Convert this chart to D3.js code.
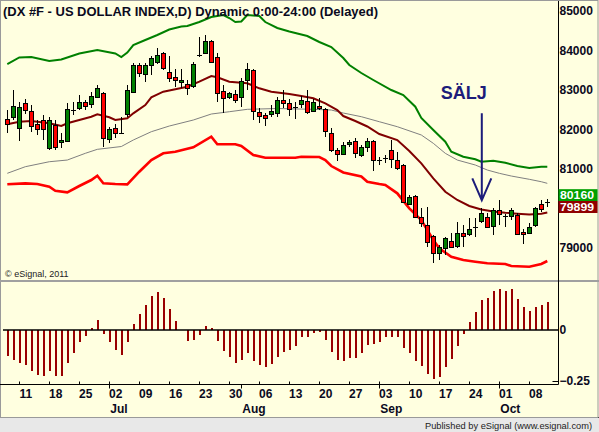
<!DOCTYPE html>
<html>
<head>
<meta charset="utf-8">
<script src="https://cdn.jsdelivr.net/npm/d3@7"></script>
<style>
	body { margin: 0; background: #fff; }
	svg { display: block; font-family: "Liberation Sans", Arial, sans-serif; }
</style>
</head>
<body>
<svg width="599" height="432"></svg>
<script>
// daily candles, DX #F, 6 Jun - 10 Oct 2012
const opens = [82265, 82316, 82030, 82663, 82460, 82132, 82240, 81524, 82106, 81675,
	81709, 82495, 82537, 82689, 82646, 82815, 82916, 81760, 82038, 81903,
	82384, 82957, 83633, 83397, 83615, 83701, 83929, 83448, 83321, 83195,
	83144, 83083, 83886, 83929, 84240, 83828, 82974, 82805, 82900, 82830,
	83236, 83506, 82435, 82359, 82409, 82409, 82747, 82663, 82580, 82637,
	82721, 82476, 82595, 82511, 81911, 81481, 81380, 81625, 81709, 81354,
	81565, 81709, 81227, 81270, 81481, 81227, 81100, 80130, 80316, 79792,
	79582, 79303, 78865, 78992, 79176, 79050, 79388, 79336, 79540, 79665,
	79792, 79557, 79961, 79818, 79810, 79835, 79412, 79388, 79565, 80113, 80160];
const highs = [82495, 83000, 82704, 82765, 82620, 82240, 82367, 82324, 82240, 81903,
	82663, 82704, 82873, 82747, 82957, 83126, 82957, 82056, 82139, 82324,
	83126, 83676, 83690, 83676, 83861, 84056, 83970, 83861, 83524, 83524,
	83253, 83716, 84350, 84392, 84266, 83929, 83126, 82957, 83000, 83296,
	83690, 83524, 82537, 82409, 82620, 82830, 83000, 82765, 82704, 82848,
	83000, 82765, 82790, 82544, 82038, 81532, 81690, 81734, 81777, 81607,
	81777, 81734, 81310, 81354, 81734, 81437, 81126, 80341, 80341, 80004,
	80046, 79328, 79075, 79286, 79371, 79665, 79582, 79751, 79751, 80004,
	79877, 80004, 80215, 79860, 80004, 79877, 79472, 79625, 80046, 80215, 80240];
const lows = [81920, 82240, 81716, 82392, 81944, 81860, 81734, 81481, 81481, 81524,
	81690, 82367, 82493, 82493, 82537, 82790, 81564, 81650, 81777, 81880,
	82324, 82932, 83337, 83210, 83380, 83658, 83506, 83210, 83083, 83043,
	82873, 83043, 83828, 83904, 83690, 82704, 82425, 82772, 82663, 82577,
	83000, 82240, 82156, 82088, 82324, 82309, 82535, 82341, 82265, 82537,
	82392, 82450, 82493, 81810, 81430, 81202, 81354, 81565, 81270, 81310,
	81437, 80949, 81100, 81143, 81017, 80974, 80147, 80113, 79751, 79540,
	79033, 78627, 78695, 78822, 78992, 78992, 79033, 79303, 79286, 79625,
	79498, 79329, 79582, 79540, 79708, 79328, 79095, 79354, 79540, 79920, 80030];
const closes = [82130, 82595, 82562, 82493, 82070, 82005, 82005, 82240, 81549, 81734,
	82511, 82495, 82689, 82595, 82848, 83043, 81777, 82005, 81903, 81903,
	83000, 83633, 83422, 83633, 83802, 83886, 83549, 83296, 83253, 83253,
	83043, 83650, 83886, 84240, 83717, 82916, 82805, 82916, 82747, 83228,
	83524, 82476, 82324, 82273, 82476, 82747, 82680, 82519, 82580, 82747,
	82450, 82704, 82537, 81961, 81481, 81380, 81607, 81683, 81397, 81549,
	81709, 81227, 81227, 81270, 81245, 81017, 80172, 80298, 79792, 79640,
	79159, 78881, 79018, 79245, 79033, 79371, 79310, 79472, 79540, 79877,
	79540, 79961, 79860, 79818, 79961, 79354, 79354, 79540, 80004, 79979, 80160];

// band lines, read at the bar index listed beside them
const upperIdx = [0, 2, 4, 7, 9, 12, 15, 18, 19, 20, 21, 23, 25, 27, 29, 30, 32, 34, 36, 37,
	38, 39, 40, 42, 43, 45, 47, 50, 52, 54, 56, 57, 59, 61, 64, 66, 68, 69, 71, 73,
	74, 76, 78, 79, 81, 83, 85, 87, 89, 90];
const upperValues = [83658, 83823, 83835, 83734, 83772, 83924, 84013, 83924, 83835, 83949,
	84139, 84266, 84392, 84532, 84608, 84620, 84721, 84848, 84899, 84823,
	84721, 84734, 84899, 84873, 84721, 84570, 84481, 84367, 84215, 84088,
	83810, 83633, 83430, 83253, 83000, 82873, 82577, 82291, 81987, 81691,
	81437, 81311, 81245, 81184, 81210, 81159, 81075, 81025, 81058, 81058];
const midIdx = [0, 2, 4, 7, 9, 10, 12, 14, 15, 17, 18, 20, 21, 23, 24, 26, 28, 30, 32, 34,
	35, 37, 40, 42, 44, 47, 49, 51, 53, 55, 56, 58, 60, 62, 65, 67, 69, 71, 73, 75,
	77, 79, 81, 83, 85, 87, 89, 90];
const midValues = [82131, 82197, 82215, 82157, 82088, 82157, 82240, 82324, 82385, 82309,
	82240, 82283, 82410, 82620, 82815, 82957, 83017, 83083, 83210, 83354,
	83321, 83210, 83170, 83043, 82957, 82898, 82848, 82790, 82663, 82493,
	82341, 82215, 82076, 81886, 81734, 81455, 81144, 80764, 80425, 80215,
	80063, 79974, 79923, 79893, 79870, 79850, 79870, 79899];
const avgIdx = [0, 3, 7, 10, 13, 15, 19, 21, 24, 27, 31, 34, 37, 40, 45, 51, 54, 56, 59, 62,
	65, 69, 71, 73, 75, 78, 80, 82, 84, 87, 89, 90];
const avgValues = [80891, 81058, 81184, 81227, 81397, 81498, 81569, 81734, 81944, 82088,
	82240, 82392, 82450, 82511, 82531, 82511, 82493, 82417, 82324, 82197,
	82071, 81861, 81650, 81397, 81227, 81101, 80974, 80891, 80822, 80739, 80678, 80637];
const lowerIdx = [0, 3, 5, 7, 8, 10, 12, 14, 15, 16, 18, 20, 22, 24, 26, 28, 31, 34, 35, 38,
	39, 41, 43, 48, 49, 52, 53, 54, 56, 59, 60, 62, 63, 65, 67, 69, 71, 72, 74, 76,
	78, 80, 83, 84, 87, 89, 90];
const lowerValues = [80612, 80637, 80620, 80551, 80450, 80410, 80569, 80721, 80830, 80637,
	80620, 80612, 80931, 81227, 81397, 81437, 81549, 81817, 81625, 81625,
	81582, 81354, 81286, 81286, 81311, 81303, 81227, 81075, 80911, 80810,
	80679, 80620, 80594, 80384, 80004, 79708, 79202, 78992, 78779, 78695,
	78652, 78612, 78594, 78543, 78526, 78594, 78670];

// oscillator, lower pane
const oscValues = [-0.127, -0.147, -0.160, -0.172, -0.199, -0.219, -0.225, -0.199, -0.224, -0.224,
	-0.160, -0.111, -0.059, -0.029, 0.008, 0.049, -0.020, -0.059, -0.098, -0.123,
	-0.059, 0.029, 0.078, 0.123, 0.167, 0.185, 0.155, 0.101, 0.042, -0.002,
	-0.054, -0.049, -0.025, 0.020, 0.008, -0.054, -0.101, -0.131, -0.160, -0.147,
	-0.111, -0.150, -0.170, -0.180, -0.167, -0.131, -0.106, -0.098, -0.077, -0.036,
	-0.033, -0.013, -0.008, -0.049, -0.106, -0.147, -0.150, -0.136, -0.136, -0.111,
	-0.072, -0.069, -0.057, -0.036, -0.033, -0.033, -0.087, -0.111, -0.150, -0.176,
	-0.216, -0.239, -0.229, -0.180, -0.142, -0.077, -0.020, 0.039, 0.088, 0.147,
	0.157, 0.191, 0.201, 0.191, 0.201, 0.152, 0.113, 0.093, 0.113, 0.123, 0.137];

const priceTicks = [85000, 84000, 83000, 82000, 81000, 79000];
const oscTicks = [0, -0.25];
const lastClose = 80160;
const lastMid = 79899;
const sellIdx = 79;

const svg = d3.select("svg");
const width = +svg.attr("width");
const height = +svg.attr("height");

const dates = d3.timeDay.range(new Date(2012, 5, 6), new Date(2012, 9, 11))
	.filter(d => d.getDay() % 6 !== 0);

const xScale = d3.scaleLinear().domain([0, dates.length - 1]).range([7.3, 547.3]);
const yPrice = d3.scaleLinear().domain([79000, 85000]).range([248, 11]);
const yOsc = d3.scaleLinear().domain([-0.25, 0]).range([381, 330]);
const axisX = 558.5;
const axisY = 384.5;
const ink = "#0a0a1e";

// frame
svg.append("rect").attr("width", width).attr("height", 418).attr("fill", "#ffffe0");
svg.append("rect").attr("y", 418).attr("width", width).attr("height", height - 418).attr("fill", "#e8e8e8");
svg.append("line").attr("x1", 0).attr("x2", width).attr("y1", 417.5).attr("y2", 417.5).attr("stroke", "#000");
svg.append("rect").attr("x", 0.5).attr("y", 0.5).attr("width", width - 1.5).attr("height", 417)
	.attr("fill", "none").attr("stroke", "#9a9a9a");
svg.append("line").attr("x1", 0).attr("x2", width).attr("y1", 281).attr("y2", 281)
	.attr("stroke", "#a0a0a0").attr("stroke-width", 2);

// band lines
const line = d3.line().x(d => xScale(d[0])).y(d => yPrice(d[1]));
const bands = [
	{ idx: avgIdx, values: avgValues, color: "#808080", w: 1 },
	{ idx: lowerIdx, values: lowerValues, color: "#ff0000", w: 2.6 },
	{ idx: upperIdx, values: upperValues, color: "#008000", w: 2 },
	{ idx: midIdx, values: midValues, color: "#800000", w: 2 }
];
svg.append("g").selectAll("path").data(bands)
	.enter().append("path")
		.attr("d", b => line(d3.zip(b.idx, b.values)))
		.attr("fill", "none")
		.attr("stroke", b => b.color)
		.attr("stroke-width", b => b.w);

// candles
const candles = dates.map((d, i) => ({ i, o: opens[i], h: highs[i], l: lows[i], c: closes[i] }));
const cg = svg.append("g").attr("shape-rendering", "crispEdges");
const cx = d => Math.round(xScale(d.i));
cg.selectAll("line").data(candles)
	.enter().append("line")
		.attr("x1", d => cx(d) + 0.5).attr("x2", d => cx(d) + 0.5)
		.attr("y1", d => yPrice(d.h)).attr("y2", d => yPrice(d.l))
		.attr("stroke", "#000");
cg.selectAll("rect").data(candles.filter(d => d.o !== d.c))
	.enter().append("rect")
		.attr("x", d => cx(d) - 1.5)
		.attr("y", d => Math.round(yPrice(Math.max(d.o, d.c))) + 0.5)
		.attr("width", 4)
		.attr("height", d => Math.max(1, Math.round(yPrice(Math.min(d.o, d.c)) - yPrice(Math.max(d.o, d.c)))))
		.attr("fill", d => d.c > d.o ? "#008000" : "#ff0000")
		.attr("stroke", "#000");
cg.selectAll("line.doji").data(candles.filter(d => d.o === d.c))
	.enter().append("line")
		.attr("class", "doji")
		.attr("x1", d => cx(d) - 2).attr("x2", d => cx(d) + 3)
		.attr("y1", d => Math.round(yPrice(d.c)) + 0.5).attr("y2", d => Math.round(yPrice(d.c)) + 0.5)
		.attr("stroke", "#000").attr("stroke-width", 1.5);

// oscillator
svg.append("g").attr("shape-rendering", "crispEdges")
	.selectAll("rect").data(oscValues)
	.enter().append("rect")
		.attr("x", (v, i) => Math.round(xScale(i)))
		.attr("y", v => yOsc(Math.max(0, v)))
		.attr("width", 2)
		.attr("height", v => Math.abs(yOsc(v) - yOsc(0)))
		.attr("fill", "#990000");
svg.append("line").attr("x1", 3).attr("x2", axisX).attr("y1", yOsc(0)).attr("y2", yOsc(0))
	.attr("stroke", "#000").attr("stroke-width", 1.5);
svg.append("line").attr("x1", axisX - 6).attr("x2", axisX).attr("y1", yOsc(-0.25) + 0.5).attr("y2", yOsc(-0.25) + 0.5)
	.attr("stroke", "#000");

// right axes
svg.append("line").attr("x1", axisX).attr("x2", axisX).attr("y1", 1).attr("y2", axisY)
	.attr("stroke", "#000");
const styleAxis = g => {
	g.select(".domain").remove();
	g.attr("font-family", null).attr("font-size", 12).attr("font-weight", "bold").attr("fill", ink);
	g.selectAll("text").attr("fill", ink);
};
svg.append("g").attr("transform", `translate(${axisX},0)`)
	.call(d3.axisRight(yPrice).tickValues(priceTicks).tickSize(0).tickPadding(1).tickFormat(d3.format("d")))
	.call(styleAxis);
svg.append("g").attr("transform", `translate(${axisX},0)`)
	.call(d3.axisRight(yOsc).tickValues(oscTicks).tickSize(0).tickPadding(1).tickFormat(d => d === 0 ? "0" : d3.format(".2f")(d)))
	.call(styleAxis);

// last value boxes
const boxes = [
	{ v: lastClose, top: yPrice(lastClose) - 13, fill: "#00a000" },
	{ v: lastMid, top: yPrice(lastMid) - 11.5, fill: "#900000" }
];
svg.selectAll("rect.box").data(boxes)
	.enter().append("rect")
		.attr("class", "box")
		.attr("x", axisX).attr("y", b => b.top)
		.attr("width", 39).attr("height", 12)
		.attr("fill", b => b.fill);
svg.selectAll("text.box").data(boxes)
	.enter().append("text")
		.attr("class", "box")
		.attr("x", axisX + 1.5).attr("y", b => b.top + 10)
		.attr("font-size", 11).attr("font-weight", "bold").attr("fill", "#fff")
		.attr("textLength", 34).attr("lengthAdjust", "spacingAndGlyphs")
		.text(b => b.v);

// bottom date axis
svg.append("line").attr("x1", 0).attr("x2", axisX).attr("y1", axisY).attr("y2", axisY).attr("stroke", "#000");
const mondays = dates.map((d, i) => ({ d, i })).filter(o => o.d.getDay() === 1);
const monthStarts = dates.map((d, i) => ({ d, i }))
	.filter(o => o.i > 0 && o.d.getMonth() !== dates[o.i - 1].getMonth());
svg.append("g").selectAll("line").data(mondays)
	.enter().append("line")
		.attr("x1", o => Math.round(xScale(o.i - 1)) + 0.5).attr("x2", o => Math.round(xScale(o.i - 1)) + 0.5)
		.attr("y1", axisY - 3).attr("y2", axisY)
		.attr("stroke", "#000");
svg.append("g").selectAll("line").data(monthStarts)
	.enter().append("line")
		.attr("x1", o => Math.round(xScale(o.i - 1)) + 0.5).attr("x2", o => Math.round(xScale(o.i - 1)) + 0.5)
		.attr("y1", axisY).attr("y2", axisY + 4)
		.attr("stroke", "#000");
svg.append("g").selectAll("text").data(mondays)
	.enter().append("text")
		.attr("x", o => xScale(o.i) + 0.5).attr("y", 398)
		.attr("text-anchor", "middle")
		.attr("font-size", 12).attr("font-weight", "bold").attr("fill", ink)
		.text(o => d3.timeFormat("%d")(o.d));
svg.append("g").selectAll("text").data(monthStarts)
	.enter().append("text")
		.attr("x", o => xScale(o.i - 1) + 1).attr("y", 413)
		.attr("font-size", 12).attr("font-weight", "bold").attr("fill", ink)
		.text(o => d3.timeFormat("%b")(o.d));

// texts
svg.append("text").attr("x", 3).attr("y", 16)
	.attr("font-size", 13).attr("font-weight", "bold").attr("fill", ink)
	.attr("textLength", 375).attr("lengthAdjust", "spacingAndGlyphs")
	.text("(DX #F - US DOLLAR INDEX,D) Dynamic 0:00-24:00 (Delayed)");
svg.append("text").attr("x", 5).attr("y", 277)
	.attr("font-size", 9).attr("fill", "#222")
	.text("© eSignal, 2011");
svg.append("text").attr("x", 425).attr("y", 428.5)
	.attr("font-size", 9.5).attr("fill", "#222")
	.attr("textLength", 167).attr("lengthAdjust", "spacingAndGlyphs")
	.text("Published by eSignal (www.esignal.com)");

// sell annotation
const navy = "#1c1c7a";
const ax = xScale(sellIdx) + 0.5;
const tip = yPrice(highs[sellIdx]) - 8;
svg.append("text").attr("x", ax - 41).attr("y", 99)
	.attr("font-size", 18).attr("font-weight", "bold").attr("fill", navy)
	.text("SÄLJ");
svg.append("path")
	.attr("d", `M${ax},${tip - 87}L${ax},${tip}M${ax - 9.5},${tip - 22}L${ax},${tip}L${ax + 9.5},${tip - 22}`)
	.attr("fill", "none").attr("stroke", navy).attr("stroke-width", 2);
</script>
</body>
</html>
